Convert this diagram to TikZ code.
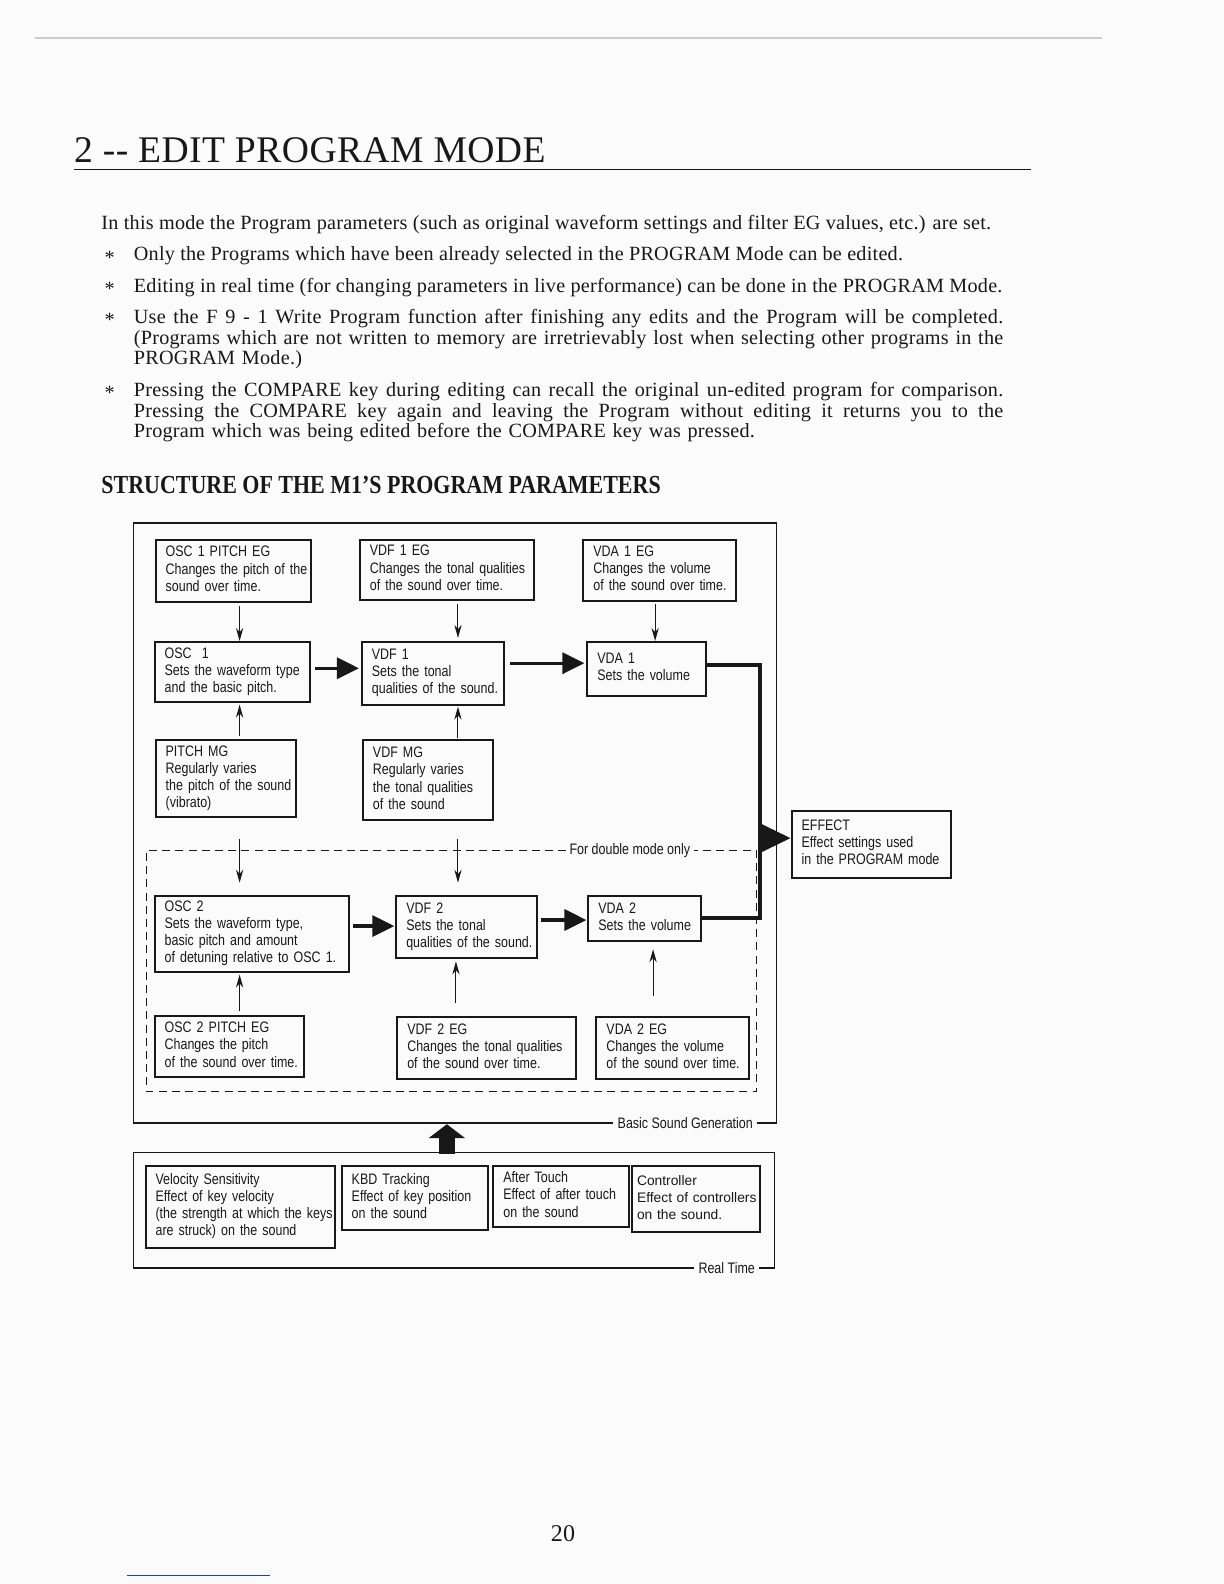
\documentclass[tikz,border=0pt]{standalone}
\usepackage{fontspec}
\setmainfont{Liberation Serif}[LetterSpace=1.2]
\newfontfamily\diagfont[FakeStretch=0.82]{Liberation Sans}
\newfontfamily\ctrlfont{Liberation Sans}
\newfontfamily\headfont[FakeStretch=0.845]{Liberation Serif}
\usetikzlibrary{arrows.meta}

\definecolor{paper}{RGB}{251,251,252}
\definecolor{ink}{RGB}{24,24,24}
\definecolor{pen}{RGB}{40,60,190}

\def\pxu{0.5055}
\newcommand{\fullline}[1]{\makebox[434.7pt][s]{\spaceskip=0.26em plus 1em minus 0.05em\xspaceskip=\spaceskip #1}}
\newcommand{\bstar}{\raisebox{-1.6pt}{*}}
\newcommand{\prmbox}[6]{%
  \pgfmathsetmacro\prmtw{#4*\pxu-10}%
  \node[prm, minimum width=#4*\pxu*1pt, minimum height=#5*\pxu*1pt,
    text width=\prmtw pt] (#1) at (#2,#3)
    {\begin{tabular}{@{}l@{}}#6\end{tabular}};}

\tikzset{
  prm/.style={draw=ink, text=ink, line width=1pt, anchor=north west,
    inner xsep=5pt, inner ysep=0pt,
    font=\diagfont\fontsize{7.6pt}{8.6pt}\selectfont},
  thinarr/.style={draw=ink, line width=0.5pt, -{Stealth[length=6.5pt,width=3.6pt]}},
  fatarr/.style={draw=ink, fill=ink, line width=1.7pt, -{Triangle[length=11pt,width=10.5pt]}},
  feed/.style={draw=ink, line width=2pt},
  frame/.style={draw=ink, line width=0.9pt},
  dbl/.style={draw=ink, line width=0.6pt, dash pattern=on 4pt off 2.6pt},
  body/.style={anchor=base west, inner sep=0pt, text=ink,
    font=\fontsize{10.1pt}{10.36pt}\selectfont},
  lbl/.style={inner sep=2pt, text=ink, font=\diagfont\fontsize{7.6pt}{8.6pt}\selectfont}
}

\begin{document}
\begin{tikzpicture}[x=0.5055pt,y=-0.5055pt]
  % Page
  \fill[paper] (0pt,0pt) rectangle (612pt,-792pt);
  \useasboundingbox (0pt,0pt) rectangle (612pt,-792pt);
  \draw[gray!40, line width=1pt] (35,38) -- (1090,38);

  % Title
  \node[anchor=base west, inner sep=0pt, text=ink,
    font=\fontsize{18.8pt}{22pt}\selectfont] (title) at (73,161) {2 -{}- EDIT PROGRAM MODE};
  \draw[ink, line width=0.6pt] (73,168) -- (1020,168);

  % Text
  \node[body] (intro) at (100,227) {In this mode the Program parameters (such as original waveform settings and filter EG values, etc.) are set.};
  \node[body] (starA) at (103,258) {\bstar};
  \node[body] (itemA) at (132,258) {Only the Programs which have been already selected in the PROGRAM Mode can be edited.};
  \node[body] (starB) at (103,289) {\bstar};
  \node[body] (itemB) at (132,289) {Editing in real time (for changing parameters in live performance) can be done in the PROGRAM Mode.};
  \node[body] (starC) at (103,320) {\bstar};
  \node[body, text width=434.7pt] (itemC) at (132,320)
    {\fullline{Use the F 9 - 1 Write Program function after finishing any edits and the Program will be completed.}\\
     \fullline{(Programs which are not written to memory are irretrievably lost when selecting other programs in the}\\
     PROGRAM Mode.)};
  \node[body] (starD) at (103,392) {\bstar};
  \node[body, text width=434.7pt] (itemD) at (132,392)
    {\fullline{Pressing the COMPARE key during editing can recall the original un-edited program for comparison.}\\
     \fullline{Pressing the COMPARE key again and leaving the Program without editing it returns you to the}\\
     Program which was being edited before the COMPARE key was pressed.};

  \node[anchor=base west, inner sep=0pt, text=ink,
    font=\headfont\bfseries\fontsize{13pt}{15pt}\selectfont] (head) at (100,488)
    {STRUCTURE OF THE M1’S PROGRAM PARAMETERS};

  % Oscillator 1 chain
  \prmbox{oscAeg}{153}{533}{154}{61}{OSC 1 PITCH EG\\Changes the pitch of the\\sound over time.}
  \prmbox{vdfAeg}{355}{533}{172}{59}{VDF 1 EG\\Changes the tonal qualities\\of the sound over time.}
  \prmbox{vdaAeg}{576}{533}{151}{60}{VDA 1 EG\\Changes the volume\\of the sound over time.}
  \prmbox{oscA}{152}{634}{154}{59}{OSC\ \ 1\\Sets the waveform type\\and the basic pitch.}
  \prmbox{vdfA}{357}{634}{141}{62}{VDF 1\\Sets the tonal\\qualities of the sound.}
  \prmbox{vdaA}{580}{634}{117}{53}{VDA 1\\Sets the volume}
  \prmbox{pitchmg}{153}{731}{139}{76}{PITCH MG\\Regularly varies\\the pitch of the sound\\(vibrato)}
  \prmbox{vdfmg}{358}{731}{129}{79}{VDF MG\\Regularly varies\\the tonal qualities\\of the sound}

  % Oscillator 2 chain
  \prmbox{oscB}{152}{885}{192}{75}{OSC 2\\Sets the waveform type,\\basic pitch and amount\\of detuning relative to OSC 1.}
  \prmbox{vdfB}{391}{885}{139}{62}{VDF 2\\Sets the tonal\\qualities of the sound.}
  \prmbox{vdaB}{581}{885}{111}{45}{VDA 2\\Sets the volume}
  \prmbox{oscBeg}{152}{1004}{148}{60}{OSC 2 PITCH EG\\Changes the pitch\\of the sound over time.}
  \prmbox{vdfBeg}{392}{1005}{177}{61}{VDF 2 EG\\Changes the tonal qualities\\of the sound over time.}
  \prmbox{vdaBeg}{589}{1005}{151}{61}{VDA 2 EG\\Changes the volume\\of the sound over time.}

  % Effect
  \prmbox{effect}{782}{801}{158}{66}{EFFECT\\Effect settings used\\in the PROGRAM mode}

  % Real time controls
  \prmbox{velo}{143}{1152}{187}{81}{Velocity Sensitivity\\Effect of key velocity\\(the strength at which the keys\\are struck) on the sound}
  \prmbox{kbd}{337}{1152}{145}{64}{KBD Tracking\\Effect of key position\\on the sound}
  \prmbox{aftch}{487}{1152}{134}{61}{After Touch\\Effect of after touch\\on the sound}
  \node[prm, minimum width=64.2pt, minimum height=33.4pt, inner xsep=2.5pt, text width=59pt,
    font=\ctrlfont\fontsize{6.9pt}{8.6pt}\selectfont] (ctrl) at (624,1152)
    {\begin{tabular}{@{}l@{}}Controller\\Effect of controllers\\on the sound.\end{tabular}};

  % Columns
  \coordinate (colA) at (237,0);
  \coordinate (colB) at (453,0);
  \coordinate (colC) at (648,0);
  \coordinate (colBb) at (451,0);
  \coordinate (colCb) at (646,0);

  % EG and MG arrows
  \draw[thinarr, shorten <=1.5pt] (oscAeg.south -| colA) -- (oscA.north -| colA);
  \draw[thinarr, shorten <=1.5pt, shorten >=1.5pt] (vdfAeg.south -| colB) -- (vdfA.north -| colB);
  \draw[thinarr, shorten <=1pt] (vdaAeg.south -| colC) -- (vdaA.north -| colC);
  \draw[thinarr, shorten <=1.5pt, shorten >=1pt] (pitchmg.north -| colA) -- (oscA.south -| colA);
  \draw[thinarr, shorten <=0.5pt, shorten >=0.5pt] (vdfmg.north -| colB) -- (vdfA.south -| colB);
  \draw[thinarr, shorten <=10.5pt, shorten >=6pt] (pitchmg.south -| colA) -- (oscB.north -| colA);
  \draw[thinarr, shorten <=9pt, shorten >=6pt] (vdfmg.south -| colB) -- (vdfB.north -| colB);
  \draw[thinarr, shorten <=2pt, shorten >=1pt] (oscBeg.north -| colA) -- (oscB.south -| colA);
  \draw[thinarr, shorten <=6.5pt, shorten >=1pt] (vdfBeg.north -| colBb) -- (vdfB.south -| colBb);
  \draw[thinarr, shorten <=10pt, shorten >=3.5pt] (vdaBeg.north -| colCb) -- (vdaB.south -| colCb);

  % Signal flow
  \draw[fatarr, shorten <=2pt, shorten >=1pt] (oscA.east |- 0,661) -- (vdfA.west |- 0,661);
  \draw[fatarr, shorten <=2.5pt, shorten >=1pt] (vdfA.east |- 0,656) -- (vdaA.west |- 0,656);
  \draw[fatarr, shorten <=1.5pt, shorten >=0.5pt] (oscB.east |- 0,916) -- (vdfB.west |- 0,916);
  \draw[fatarr, shorten <=1.5pt, shorten >=0.5pt] (vdfB.east |- 0,910) -- (vdaB.west |- 0,910);

  % Output to effect
  \coordinate (fx) at (752,829);
  \draw[feed] (vdaA.east |- 0,658) -| (fx);
  \draw[feed] (vdaB.east |- 0,908) -| (fx);
  \draw[draw=ink, fill=ink, line width=2pt, -{Triangle[length=15pt,width=14pt]}] (fx) -- (fx -| effect.west);

  % Double mode frame
  \node[lbl, inner sep=1.5pt] (dbllbl) at (623,841) {For double mode only};
  \draw[dbl] (dbllbl.west) -- (145,841) -- (145,1080) -- (748,1080) -- (748,841) -- (dbllbl.east);

  % Basic sound generation frame
  \node[lbl, anchor=east] (bsglbl) at (749,1111) {Basic Sound Generation};
  \draw[frame] (bsglbl.west) -| (132,517) -| (768,1111) -- (bsglbl.east);

  % Real time frame
  \node[lbl, anchor=east] (rtlbl) at (751,1254) {Real Time};
  \draw[frame] (rtlbl.west) -| (132,1140) -| (766,1254) -- (rtlbl.east);

  % Real time into sound generation
  \coordinate (rttop) at (442,1141);
  \coordinate (bsgbot) at (442,1112);
  \draw[draw=ink, fill=ink, line width=8pt, -{Triangle[length=7pt,width=18pt]}] (rttop) -- (bsgbot);

  % Footer
  \node[anchor=base, inner sep=0pt, text=ink, font=\fontsize{12pt}{14pt}\selectfont] (pagenum) at (557,1525) {20};
  \draw[pen, line width=0.6pt] (126,1558) -- (267,1558);
\end{tikzpicture}
\end{document}
